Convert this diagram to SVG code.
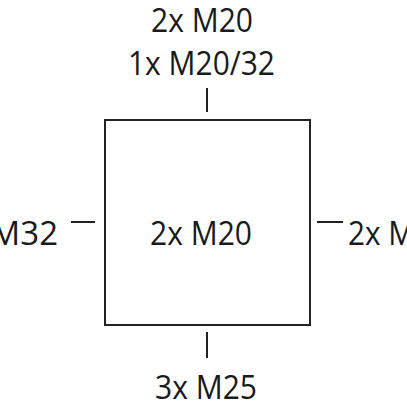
<svg xmlns="http://www.w3.org/2000/svg" width="407" height="407" viewBox="0 0 407 407">
<style>
text{font-family:"Open Sans","Noto Sans","Liberation Sans",sans-serif;font-size:33px;fill:#1a1a1a}
.ln{stroke:#222;stroke-width:2;fill:none}
</style>
<rect width="407" height="407" fill="#fff"/>
<g id="box">
<rect class="ln" x="105" y="120" width="205" height="205"/>
<text x="201" y="245" text-anchor="middle" textLength="102" lengthAdjust="spacingAndGlyphs">2x M20</text>
</g>
<g id="connectors">
<line class="ln" x1="207" y1="88" x2="207" y2="112"/>
<line class="ln" x1="207" y1="332" x2="207" y2="358"/>
<line class="ln" x1="71" y1="222" x2="95" y2="222"/>
<line class="ln" x1="317" y1="222" x2="343" y2="222"/>
</g>
<g id="top">
<text x="202" y="32" text-anchor="middle" textLength="102" lengthAdjust="spacingAndGlyphs">2x M20</text>
<text x="201.5" y="75" text-anchor="middle" textLength="147" lengthAdjust="spacingAndGlyphs">1x M20/32</text>
</g>
<g id="bottom">
<text x="206" y="399" text-anchor="middle" textLength="102" lengthAdjust="spacingAndGlyphs">3x M25</text>
</g>
<g id="left">
<text x="58" y="245" text-anchor="end">M32</text>
</g>
<g id="right">
<text x="348" y="245" textLength="67" lengthAdjust="spacingAndGlyphs">2x M</text>
</g>
</svg>
